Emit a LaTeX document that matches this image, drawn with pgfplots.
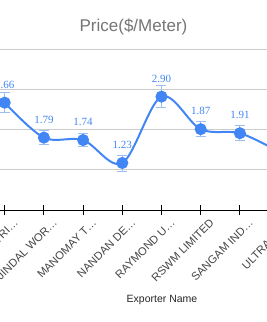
\documentclass[border=0pt]{standalone}
\usepackage{fontspec}
\setmainfont{Liberation Sans}
\newfontfamily\seriffont{Liberation Serif}
\usepackage{pgfplots}
\usepackage{pgfplotstable}
\pgfplotsset{compat=1.18}
\definecolor{lineblue}{HTML}{4285F4}
\definecolor{errblue}{HTML}{9DBDF5}
\definecolor{gridgray}{HTML}{CCCCCC}
\definecolor{titlegray}{HTML}{757575}
\definecolor{tickgray}{HTML}{444444}
\pgfplotstableread{
x y ey label
0 2.67 0.25 2.66
1 1.80 0.17 1.79
2 1.74 0.17 1.74
3 1.17 0.20 1.23
4 2.82 0.27 2.90
5 2.01 0.19 1.87
6 1.91 0.19 1.91
7 1.45 0.18 1.50
}\pricedata
\begin{document}
\begin{tikzpicture}[x=1pt,y=1pt]
\useasboundingbox (0,0) rectangle (267,322);
\clip (0,0) rectangle (267,322);
\begin{axis}[
  at={(-14.9pt,112pt)}, anchor=south west,
  scale only axis, width=313.6pt, height=160.8pt,
  xmin=-0.5, xmax=7.5, ymin=0, ymax=4,
  clip=false,
  axis x line*=bottom, axis y line*=left,
  x axis line style={black, line width=0.8pt, -},
  y axis line style={draw=none},
  ytick={1,2,3,4}, yticklabels={}, ytick style={draw=none},
  ymajorgrids, grid style={gridgray, line width=0.8pt},
  xtick={0,...,7},
  xticklabels={ALOK INDUSTRI…, JINDAL WOR…, MANOMAY T…, NANDAN DE…, RAYMOND U…, RSWM LIMITED, SANGAM IND…, ULTRA DE…},
  xtick align=center, major tick length=10pt,
  x tick style={black, line width=0.8pt},
  xticklabel style={rotate=45, anchor=north east, inner sep=0pt, font=\fontsize{11.2}{12}\selectfont, text=tickgray, xshift=4pt, yshift=-8pt},
  nodes near coords,
  point meta=explicit symbolic,
  nodes near coords style={anchor=center, yshift=18pt, font=\seriffont\fontsize{11}{12}\selectfont, text=lineblue},
]
\addplot[lineblue, line width=2pt, smooth, tension=0.55,
  mark=*, mark size=5pt, mark options={fill=lineblue, draw=lineblue},
  error bars/.cd, y dir=both, y explicit,
  error bar style={errblue, line width=0.8pt},
  error mark options={rotate=90, mark size=5pt, errblue, line width=0.8pt}]
  table[x=x, y=y, y error=ey, meta=label] {\pricedata};
\end{axis}
\node[anchor=base, text=titlegray, font=\fontsize{17}{19}\selectfont] at (133.5,290) {Price(\$/Meter)};
\node[anchor=center, text=black!85, font=\fontsize{10.5}{12}\selectfont] at (162,22) {Exporter Name};
\end{tikzpicture}
\end{document}
